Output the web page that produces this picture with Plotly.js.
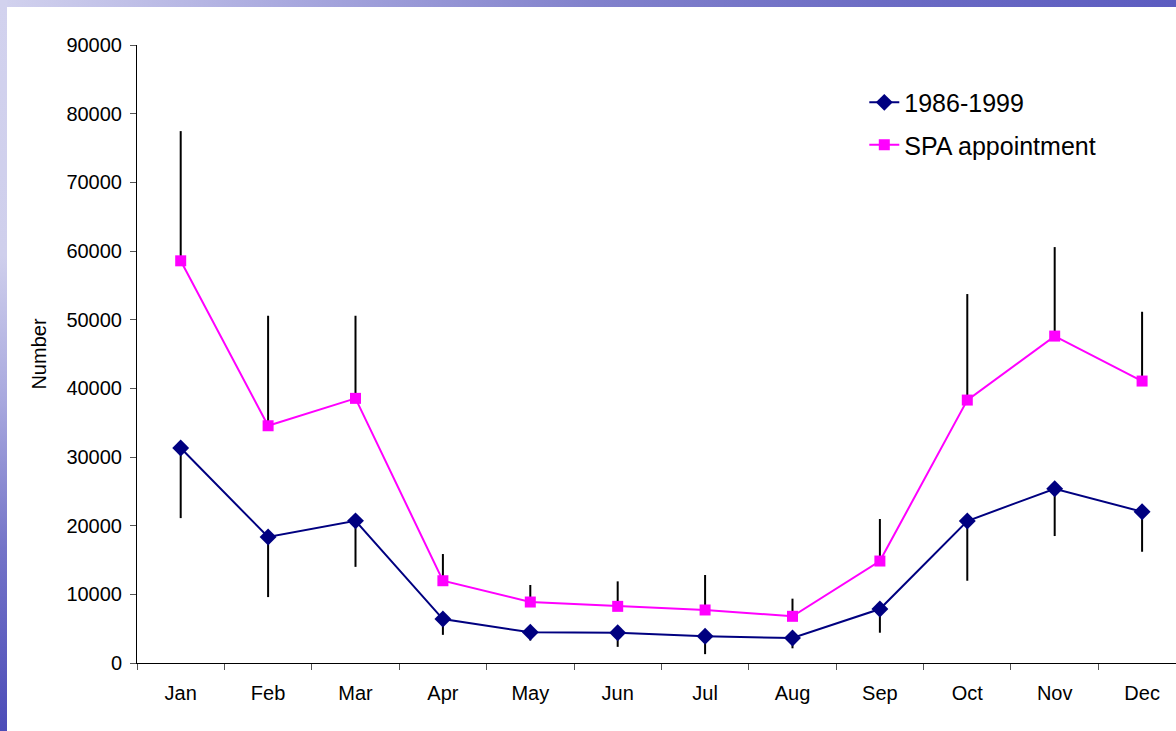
<!DOCTYPE html>
<html>
<head>
<meta charset="utf-8">
<script src="https://cdn.plot.ly/plotly-3.0.1.min.js"></script>
<style>
  html, body { margin:0; padding:0; width:1176px; height:731px; overflow:hidden; background:#fff; }
  #topstrip { position:absolute; left:0; top:0; width:1176px; height:7px;
    background: linear-gradient(to right, #d2d2ee 0%, #a8a8de 25%, #8282cc 50%, #6c6cc4 75%, #5c5cc0 100%); }
  #leftstrip { position:absolute; left:0; top:0; width:7px; height:731px;
    background: linear-gradient(to bottom, #d2d2ee 0%, #cfcfec 35%, #a8a8de 55%, #7474c8 75%, #4c4cb8 100%); }
  #chart { position:absolute; left:7px; top:7px; width:1169px; height:724px; }
</style>
</head>
<body>
<div id="topstrip"></div>
<div id="leftstrip"></div>
<div id="chart"></div>
<script>
const months = ["Jan","Feb","Mar","Apr","May","Jun","Jul","Aug","Sep","Oct","Nov","Dec"];

const series1Name = "1986-1999";
const series1 = [31300, 18350, 20700, 6400, 4470, 4400, 3890, 3640, 7860, 20680, 25380, 22030];
const series1Minus = [10200, 8750, 6700, 2300, 1200, 2050, 2600, 1500, 3450, 8700, 6890, 5830];

const series2Name = "SPA appointment";
const series2 = [58570, 34550, 38540, 11980, 8880, 8250, 7720, 6800, 14850, 38290, 47610, 41060];
const series2Plus = [18890, 16020, 12030, 3890, 2480, 3640, 5100, 2570, 6120, 15440, 12960, 10090];

const yTickVals = [0, 10000, 20000, 30000, 40000, 50000, 60000, 70000, 80000, 90000];
const yTickText = ["0","10000","20000","30000","40000","50000","60000","70000","80000","90000"];

const zeros = months.map(() => 0);

const traces = [
  {
    type: "scatter", mode: "lines+markers", name: series1Name,
    x: months, y: series1,
    line: { color: "#000080", width: 2 },
    marker: { symbol: "diamond", size: 13, color: "#000080" },
    error_y: { type: "data", symmetric: false, array: zeros, arrayminus: series1Minus,
               color: "#000000", thickness: 2, width: 0 },
    legendgroup: "a"
  },
  {
    type: "scatter", mode: "lines+markers", name: series2Name,
    x: months, y: series2,
    line: { color: "#FF00FF", width: 2 },
    marker: { symbol: "square", size: 11, color: "#FF00FF" },
    error_y: { type: "data", symmetric: false, array: series2Plus, arrayminus: zeros,
               color: "#000000", thickness: 2, width: 0 },
    legendgroup: "b"
  }
];

const layout = {
  width: 1169, height: 724,
  margin: { l: 130, r: 0, t: 38, b: 68, pad: 0 },
  paper_bgcolor: "#ffffff", plot_bgcolor: "#ffffff",
  font: { family: "Liberation Sans, Arial, sans-serif", color: "#000000", size: 20 },
  showlegend: true,
  legend: {
    x: 0.700, y: 0.944, xanchor: "left", yanchor: "top",
    font: { size: 25, color: "#000000" },
    bgcolor: "rgba(0,0,0,0)", traceorder: "grouped", tracegroupgap: 7,
    itemwidth: 30
  },
  xaxis: {
    type: "category", range: [-0.5, 11.388], autorange: false,
    showline: true, linecolor: "#000000", linewidth: 1,
    showgrid: false, zeroline: false,
    ticks: "outside", tickson: "boundaries", ticklen: 6, tickcolor: "#555555", tickwidth: 1,
    tickfont: { size: 20 }, ticklabelstandoff: 12
  },
  yaxis: {
    range: [0, 90000], autorange: false,
    tickvals: yTickVals, ticktext: yTickText,
    showline: true, linecolor: "#000000", linewidth: 1,
    showgrid: false, zeroline: false,
    ticks: "outside", ticklen: 6, tickcolor: "#555555", tickwidth: 1,
    tickfont: { size: 20 }, ticklabelstandoff: 4,
    title: { text: "Number", font: { size: 20 }, standoff: 14 }
  }
};

Plotly.newPlot("chart", traces, layout, { displayModeBar: false, staticPlot: true });
</script>
</body>
</html>
